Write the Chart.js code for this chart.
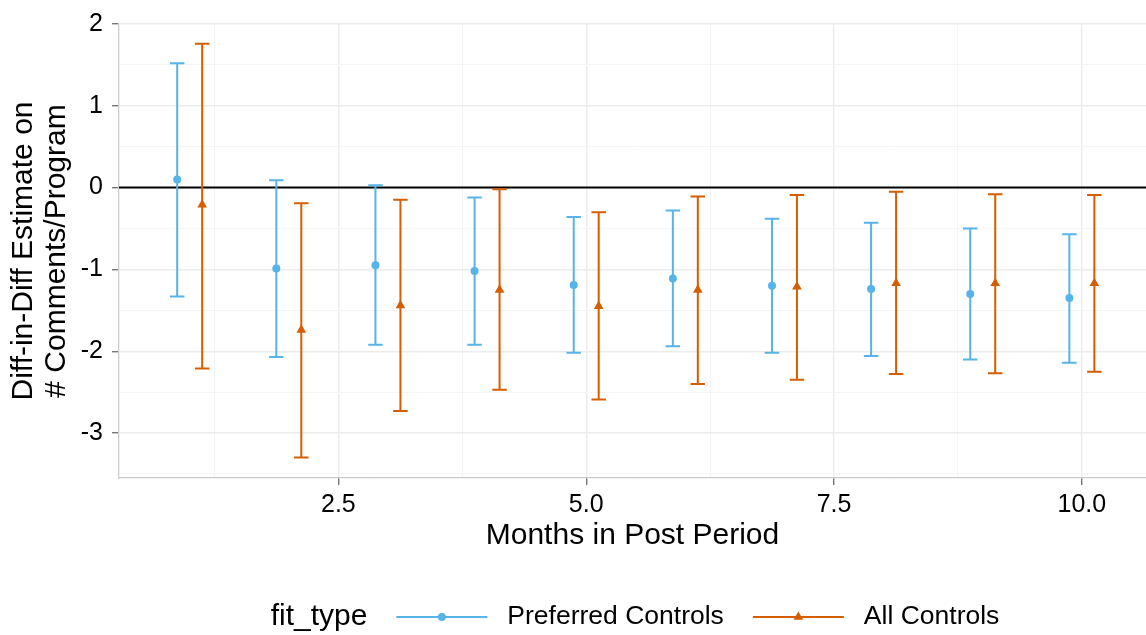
<!DOCTYPE html>
<html>
<head>
<meta charset="utf-8">
<script src="https://cdn.jsdelivr.net/npm/chart.js@4.4.1/dist/chart.umd.min.js"></script>
<style>
  html, body { margin: 0; padding: 0; background: #fff; }
  #wrap { width: 1146px; height: 635px; position: relative; }
</style>
</head>
<body>
<div id="wrap"><canvas id="myChart"></canvas></div>
<script>
// months after treatment
const months = [1, 2, 3, 4, 5, 6, 7, 8, 9, 10];

// Preferred Controls: estimate and CI
const prefEst  = [0.10, -0.99, -0.95, -1.02, -1.19, -1.11, -1.20, -1.24, -1.30, -1.35];
const prefLow  = [-1.33, -2.07, -1.92, -1.92, -2.02, -1.94, -2.02, -2.06, -2.10, -2.14];
const prefHigh = [1.52, 0.09, 0.03, -0.12, -0.36, -0.28, -0.38, -0.43, -0.50, -0.57];

// All Controls: estimate and CI
const allEst  = [-0.21, -1.74, -1.44, -1.25, -1.45, -1.25, -1.21, -1.17, -1.17, -1.17];
const allLow  = [-2.21, -3.30, -2.73, -2.47, -2.59, -2.40, -2.35, -2.28, -2.27, -2.25];
const allHigh = [1.76, -0.19, -0.15, -0.02, -0.30, -0.11, -0.09, -0.05, -0.08, -0.09];

const xTicks = [1.25, 2.5, 3.75, 5, 6.25, 7.5, 8.75, 10];
const yTicks = [-3.5, -3, -2.5, -2, -1.5, -1, -0.5, 0, 0.5, 1, 1.5, 2];

const seriesNames = ['Preferred Controls', 'All Controls'];
const blue = '#56B4E9';
const orange = '#D55E00';
const FONT = "'Liberation Sans', Arial, Helvetica, sans-serif";

const dodge = 0.126;
const capHalf = 0.073;

const prefData = months.map((m, i) => ({x: m - dodge, y: prefEst[i]}));
const allData = months.map((m, i) => ({x: m + dodge, y: allEst[i]}));

// zero line and error bars, drawn with the chart's own scales
const errorBars = {
  id: 'errorBars',
  beforeDatasetsDraw(chart) {
    const ctx = chart.ctx;
    const xs = chart.scales.x, ys = chart.scales.y;
    const area = chart.chartArea;
    ctx.save();
    ctx.strokeStyle = '#000';
    ctx.lineWidth = 2;
    ctx.beginPath();
    const y0 = ys.getPixelForValue(0);
    ctx.moveTo(area.left, y0);
    ctx.lineTo(area.right, y0);
    ctx.stroke();

    chart.data.datasets.forEach(ds => {
      ctx.strokeStyle = ds.borderColor;
      ctx.lineWidth = 2;
      ds.data.forEach((p, i) => {
        const x = xs.getPixelForValue(p.x);
        const xl = xs.getPixelForValue(p.x - capHalf);
        const xr = xs.getPixelForValue(p.x + capHalf);
        const yl = ys.getPixelForValue(ds.lo[i]);
        const yh = ys.getPixelForValue(ds.hi[i]);
        ctx.beginPath();
        ctx.moveTo(x, yl); ctx.lineTo(x, yh);
        ctx.moveTo(xl, yl); ctx.lineTo(xr, yl);
        ctx.moveTo(xl, yh); ctx.lineTo(xr, yh);
        ctx.stroke();
      });
    });
    ctx.restore();
  }
};

// ggplot style legend at the bottom
const bottomLegend = {
  id: 'bottomLegend',
  afterDraw(chart) {
    const ctx = chart.ctx;
    const y = 617;
    const keyW = 91;
    ctx.save();
    ctx.textBaseline = 'middle';
    ctx.textAlign = 'left';
    ctx.font = '30px ' + FONT;
    const titleW = ctx.measureText('fit_type').width;
    ctx.font = '26.5px ' + FONT;
    const w1 = ctx.measureText(seriesNames[0]).width;
    const w2 = ctx.measureText(seriesNames[1]).width;
    const total = titleW + 29 + keyW + 20 + w1 + 29 + keyW + 20 + w2;
    let x = 635 - total / 2;
    ctx.fillStyle = '#000';
    ctx.font = '30px ' + FONT;
    ctx.fillText('fit_type', x, y);
    x += titleW + 29;
    chart.data.datasets.forEach((ds, k) => {
      ctx.strokeStyle = ds.borderColor;
      ctx.lineWidth = 2;
      ctx.beginPath();
      ctx.moveTo(x, y); ctx.lineTo(x + keyW, y);
      ctx.stroke();
      ctx.fillStyle = ds.backgroundColor;
      Chart.helpers.drawPoint(ctx, {pointStyle: ds.pointStyle, radius: ds.pointRadius, borderWidth: 0},
        x + keyW / 2, y);
      x += keyW + 20;
      ctx.fillStyle = '#000';
      ctx.font = '26.5px ' + FONT;
      ctx.fillText(seriesNames[k], x, y);
      x += (k === 0 ? w1 : w2) + 29;
    });
    ctx.restore();
  }
};

const config = {
  type: 'scatter',
  data: {
    datasets: [{
      label: seriesNames[0],
      data: prefData,
      lo: prefLow,
      hi: prefHigh,
      pointStyle: 'circle',
      pointRadius: 4,
      pointBorderWidth: 0,
      borderColor: blue,
      backgroundColor: blue
    }, {
      label: seriesNames[1],
      data: allData,
      lo: allLow,
      hi: allHigh,
      pointStyle: 'triangle',
      pointRadius: 5.6,
      pointBorderWidth: 0,
      borderColor: orange,
      backgroundColor: orange
    }]
  },
  options: {
    responsive: true,
    maintainAspectRatio: false,
    animation: false,
    layout: { autoPadding: false, padding: { top: 21, right: 0, bottom: 77, left: 0 } },
    plugins: { legend: { display: false }, tooltip: { enabled: false } },
    scales: {
      x: {
        type: 'linear',
        min: 0.287,
        max: 10.647,
        afterBuildTicks: axis => { axis.ticks = xTicks.map(v => ({value: v})); },
        afterFit: scale => { scale.height = 80; scale.paddingRight = 0; scale.paddingLeft = 0; },
        ticks: {
          autoSkip: false,
          maxRotation: 0,
          padding: 5,
          color: '#000',
          font: { family: FONT, size: 25 },
          callback: v => (v % 2.5 === 0 ? v.toFixed(1) : '')
        },
        grid: {
          tickLength: 7,
          color: c => (c.tick && c.tick.value % 2.5 === 0 ? '#ebebeb' : '#f4f4f4'),
          lineWidth: c => (c.tick && c.tick.value % 2.5 === 0 ? 1.4 : 1),
          tickColor: c => (c.tick && c.tick.value % 2.5 === 0 ? '#777' : 'rgba(0,0,0,0)')
        },
        border: { display: true, color: '#cccccc', width: 1.3 },
        title: {
          display: true,
          text: 'Months in Post Period',
          color: '#000',
          font: { family: FONT, size: 30, lineHeight: 1.1 },
          padding: { top: 0, bottom: 6 }
        }
      },
      y: {
        type: 'linear',
        min: -3.55,
        max: 2.0,
        afterBuildTicks: axis => { axis.ticks = yTicks.map(v => ({value: v})); },
        afterFit: scale => { scale.width = 119; },
        ticks: {
          autoSkip: false,
          padding: 9,
          color: '#000',
          font: { family: FONT, size: 25 },
          callback: v => (Number.isInteger(v) ? String(v) : '')
        },
        grid: {
          tickLength: 7,
          color: c => (c.tick && Number.isInteger(c.tick.value) ? '#ebebeb' : '#f4f4f4'),
          lineWidth: c => (c.tick && Number.isInteger(c.tick.value) ? 1.4 : 1),
          tickColor: c => (c.tick && Number.isInteger(c.tick.value) ? '#777' : 'rgba(0,0,0,0)')
        },
        border: { display: true, color: '#cccccc', width: 1.3 },
        title: {
          display: true,
          text: ['Diff-in-Diff Estimate on', '# Comments/Program'],
          color: '#000',
          font: { family: FONT, size: 30, lineHeight: 1.1 },
          padding: { top: 7, bottom: 0 }
        }
      }
    }
  },
  plugins: [errorBars, bottomLegend]
};

const myChart = new Chart(document.getElementById('myChart'), config);
</script>
</body>
</html>
